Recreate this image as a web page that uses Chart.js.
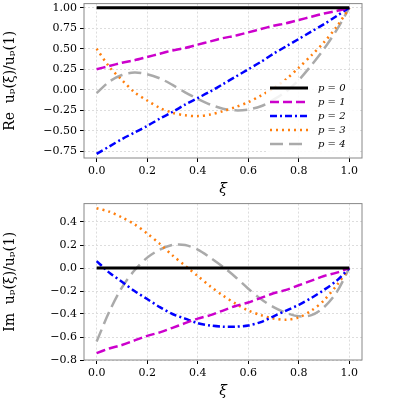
<!DOCTYPE html>
<html><head><meta charset="utf-8">
<script src="https://cdn.jsdelivr.net/npm/chart.js@4"></script>
<style>
body{margin:0;background:#fff;width:400px;height:400px;overflow:hidden}
.box{position:absolute;left:0;width:400px}
</style></head><body>
<div class="box" style="top:-6px;height:204px"><canvas id="re"></canvas></div>
<div class="box" style="top:194px;height:206px"><canvas id="im"></canvas></div>
<script>
"use strict";

const xs = [0, 0.05, 0.1, 0.15, 0.2, 0.25, 0.3, 0.35, 0.4, 0.45, 0.5, 0.55, 0.6, 0.65, 0.7, 0.75, 0.8, 0.85, 0.9, 0.95, 1];
const labels = ["p = 0", "p = 1", "p = 2", "p = 3", "p = 4"];

const re0 = [1, 1, 1, 1, 1, 1, 1, 1, 1, 1, 1, 1, 1, 1, 1, 1, 1, 1, 1, 1, 1];
const re1 = [0.25, 0.29, 0.33, 0.36, 0.4, 0.44, 0.48, 0.51, 0.55, 0.59, 0.63, 0.66, 0.7, 0.74, 0.78, 0.81, 0.85, 0.89, 0.93, 0.96, 1];
const re2 = [-0.78, -0.69, -0.6, -0.52, -0.44, -0.35, -0.27, -0.18, -0.1, -0.02, 0.07, 0.16, 0.25, 0.34, 0.44, 0.53, 0.62, 0.71, 0.8, 0.9, 1];
const re3 = [0.5, 0.28, 0.12, -0.03, -0.13, -0.22, -0.28, -0.31, -0.32, -0.3, -0.26, -0.21, -0.15, -0.07, 0.02, 0.13, 0.27, 0.42, 0.58, 0.77, 1];
const re4 = [-0.04, 0.1, 0.18, 0.21, 0.19, 0.14, 0.06, -0.03, -0.11, -0.18, -0.23, -0.25, -0.24, -0.2, -0.12, -0.02, 0.12, 0.3, 0.5, 0.73, 1];

const im0 = [0, 0, 0, 0, 0, 0, 0, 0, 0, 0, 0, 0, 0, 0, 0, 0, 0, 0, 0, 0, 0];
const im1 = [-0.74, -0.7, -0.67, -0.63, -0.59, -0.56, -0.52, -0.48, -0.44, -0.41, -0.37, -0.33, -0.3, -0.26, -0.22, -0.19, -0.15, -0.11, -0.07, -0.04, 0];
const im2 = [0.06, -0.04, -0.12, -0.2, -0.27, -0.34, -0.4, -0.44, -0.48, -0.5, -0.51, -0.51, -0.5, -0.47, -0.42, -0.37, -0.32, -0.26, -0.19, -0.11, 0];
const im3 = [0.52, 0.49, 0.44, 0.38, 0.3, 0.21, 0.11, 0.02, -0.07, -0.16, -0.24, -0.31, -0.37, -0.41, -0.44, -0.45, -0.43, -0.37, -0.28, -0.15, 0];
const im4 = [-0.64, -0.38, -0.17, -0.02, 0.09, 0.16, 0.2, 0.2, 0.16, 0.09, 0.01, -0.08, -0.18, -0.27, -0.34, -0.39, -0.42, -0.41, -0.34, -0.21, 0];

const styles = [
  { color: "#000000", dash: [], width: 3 },
  { color: "#cc00cc", dash: [9, 4], width: 2.5 },
  { color: "#0000ff", dash: [7, 3, 2, 3], width: 2.5 },
  { color: "#ff7f0e", dash: [2, 4], width: 2.5 },
  { color: "#aaaaaa", dash: [13, 6], width: 2.5 },
];

const serif = "'DejaVu Serif', serif";

function makeSets(series) {
  return series.map((ys, i) => ({
    label: labels[i],
    data: xs.map((x, k) => ({ x, y: ys[k] })),
    borderColor: styles[i].color,
    borderDash: styles[i].dash,
    borderWidth: styles[i].width,
    pointRadius: 0,
    tension: 0.3,
    fill: false,
  }));
}

// legend drawn inside the plot, lower right, like matplotlib
const innerLegend = {
  id: "innerLegend",
  afterDraw(chart, args, opts) {
    if (!opts.show) return;
    const ctx = chart.ctx, a = chart.chartArea;
    const x0 = a.right - 96, y0 = a.bottom - 78;
    ctx.save();
    ctx.fillStyle = "rgba(255,255,255,0.85)";
    ctx.fillRect(x0, y0, 92, 74);
    ctx.font = "italic 10px " + serif;
    ctx.textBaseline = "middle";
    chart.data.datasets.forEach((d, i) => {
      const y = y0 + 8 + i * 14;
      ctx.strokeStyle = d.borderColor;
      ctx.lineWidth = d.borderWidth;
      ctx.setLineDash(d.borderDash);
      ctx.beginPath(); ctx.moveTo(x0 + 4, y); ctx.lineTo(x0 + 42, y); ctx.stroke();
      ctx.setLineDash([]);
      ctx.fillStyle = "#000";
      ctx.fillText("p = " + i, x0 + 52, y);
    });
    ctx.restore();
  },
};

const frame = {
  id: "frame",
  afterDraw(chart) {
    const ctx = chart.ctx, a = chart.chartArea;
    ctx.save();
    ctx.strokeStyle = "#888"; ctx.lineWidth = 1;
    ctx.strokeRect(a.left, a.top, a.right - a.left, a.bottom - a.top);
    ctx.restore();
  },
};

function draw(id, series, yMin, yMax, step, title, legend) {
  new Chart(document.getElementById(id), {
    type: "line",
    data: { datasets: makeSets(series) },
    plugins: [innerLegend, frame],
    options: {
      responsive: true, maintainAspectRatio: false, animation: false,
      layout: { padding: { top: 0, right: 38, left: 0 } },
      plugins: { legend: { display: false }, tooltip: { enabled: false }, innerLegend: { show: legend } },
      scales: {
        x: {
          type: "linear", min: -0.05, max: 1.05,
          afterBuildTicks: (ax) => { ax.ticks = [0, 0.2, 0.4, 0.6, 0.8, 1].map((v) => ({ value: v })); },
          ticks: { callback: (v) => v.toFixed(1), font: { family: serif, size: 11 }, color: "#000" },
          grid: { color: "#ddd", tickColor: "#000", tickLength: 4 },
          border: { display: false, dash: [2, 2] },
          title: { display: true, text: "ξ", font: { family: serif, size: 14, style: "italic" }, color: "#000", padding: 0 },
        },
        y: {
          min: yMin, max: yMax,
          afterBuildTicks: (ax) => {
            const t = [];
            for (let v = Math.ceil(yMin / step) * step; v <= yMax + 1e-9; v += step) t.push({ value: +v.toFixed(3) });
            ax.ticks = t;
          },
          afterFit: (ax) => { ax.width = 84; },
          ticks: { callback: (v) => (step < 0.25 ? v.toFixed(1) : v.toFixed(2)).replace("-", "−"), font: { family: serif, size: 11 }, color: "#000" },
          grid: { color: "#ddd", tickColor: "#000", tickLength: 4 },
          border: { display: false, dash: [2, 2] },
          title: { display: true, text: title, font: { family: serif, size: 14 }, color: "#000", padding: 2 },
        },
      },
    },
  });
}

draw("re", [re0, re1, re2, re3, re4], -0.83, 1.05, 0.25, "Re  uₚ(ξ)/uₚ(1)", true);
draw("im", [im0, im1, im2, im3, im4], -0.8, 0.56, 0.2, "Im  uₚ(ξ)/uₚ(1)", false);
</script>
</body></html>
